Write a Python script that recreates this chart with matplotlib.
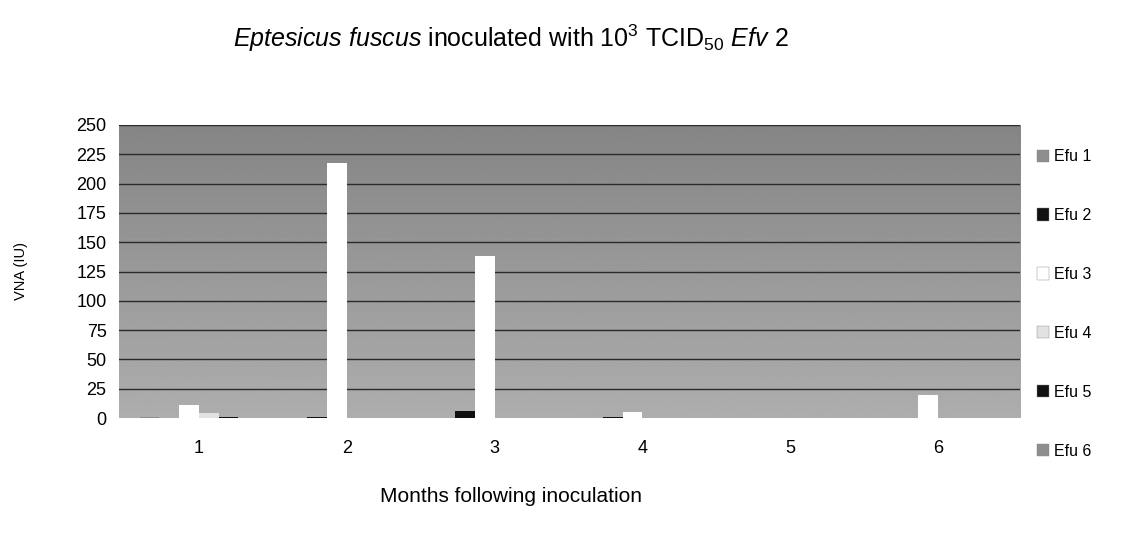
import numpy as np
import matplotlib
matplotlib.use("Agg")
import matplotlib.pyplot as plt

plt.rcParams['font.family'] = ['Liberation Sans', 'DejaVu Sans']
plt.rcParams['mathtext.fontset'] = 'custom'
plt.rcParams['mathtext.rm'] = 'Liberation Sans'
plt.rcParams['mathtext.it'] = 'Liberation Sans:italic'

months = ['1', '2', '3', '4', '5', '6']
series_names = ['Efu 1', 'Efu 2', 'Efu 3', 'Efu 4', 'Efu 5', 'Efu 6']
efu1 = [1, 0, 0, 0, 0, 0]
efu2 = [0, 1, 6, 1, 0, 0]
efu3 = [11, 218, 138, 5, 0, 20]
efu4 = [4, 0, 0, 0, 0, 0]
efu5 = [1, 0, 0, 0, 0, 0]
efu6 = [0, 0, 0, 0, 0, 0]
yticks = [0, 25, 50, 75, 100, 125, 150, 175, 200, 225, 250]

series = [efu1, efu2, efu3, efu4, efu5, efu6]
colors = ['#8e8e8e', '#111111', '#ffffff', '#e2e2e2', '#111111', '#8e8e8e']

fig = plt.figure(figsize=(11.28, 5.43), dpi=100)
ax = fig.add_axes([0.1055, 0.2302, 0.7988, 0.5396])

# gradient gray background (darker towards the top)
grad = np.linspace(0.68, 0.52, 256).reshape(-1, 1)
ax.imshow(grad, extent=[0, 1, 0, 1], transform=ax.transAxes, aspect='auto',
          cmap='gray', vmin=0, vmax=1, zorder=0, origin='lower')

x = np.arange(1, len(months) + 1)
w = 1 / 7.5
handles = []
for i, (vals, c, name) in enumerate(zip(series, colors, series_names)):
    b = ax.bar(x + (i - 2.5) * w, vals, width=w, color=c,
               edgecolor='none', zorder=3, label=name)
    handles.append(b)

ax.set_xlim(1 - 80 / 148, 6 + 82 / 148)
ax.set_ylim(0, 250)
ax.set_yticks(yticks)
ax.set_xticks(x)
ax.set_xticklabels(months)
for yv in yticks[1:]:
    ax.axhline(yv, color='#2a2a2a', lw=1.0, zorder=1)
for s in ax.spines.values():
    s.set_visible(False)
ax.tick_params(axis='both', length=0, labelsize=13, colors='black')
ax.tick_params(axis='x', pad=16)
ax.tick_params(axis='y', pad=9)

fig.text(0.453, 0.93, r"$\it{Eptesicus\ fuscus}$ inoculated with 10$^3$ TCID$_{50}$ $\it{Efv}$ 2",
         ha='center', va='center', fontsize=18)
fig.text(0.453, 0.086, 'Months following inoculation', ha='center', va='center', fontsize=15)
fig.text(0.019, 0.50, 'VNA (IU)', ha='center', va='center', rotation=90, fontsize=10.5)

leg = fig.legend(handles=handles, labels=series_names, loc='upper left',
                 bbox_to_anchor=(0.912, 0.740), frameon=False, fontsize=11.5,
                 handlelength=0.8, handleheight=0.8, handletextpad=0.3,
                 labelspacing=2.75, borderpad=0)
for h in leg.legend_handles:
    h.set_edgecolor('#888888')
    h.set_linewidth(0.3)

fig.savefig('out.png', dpi=100)
